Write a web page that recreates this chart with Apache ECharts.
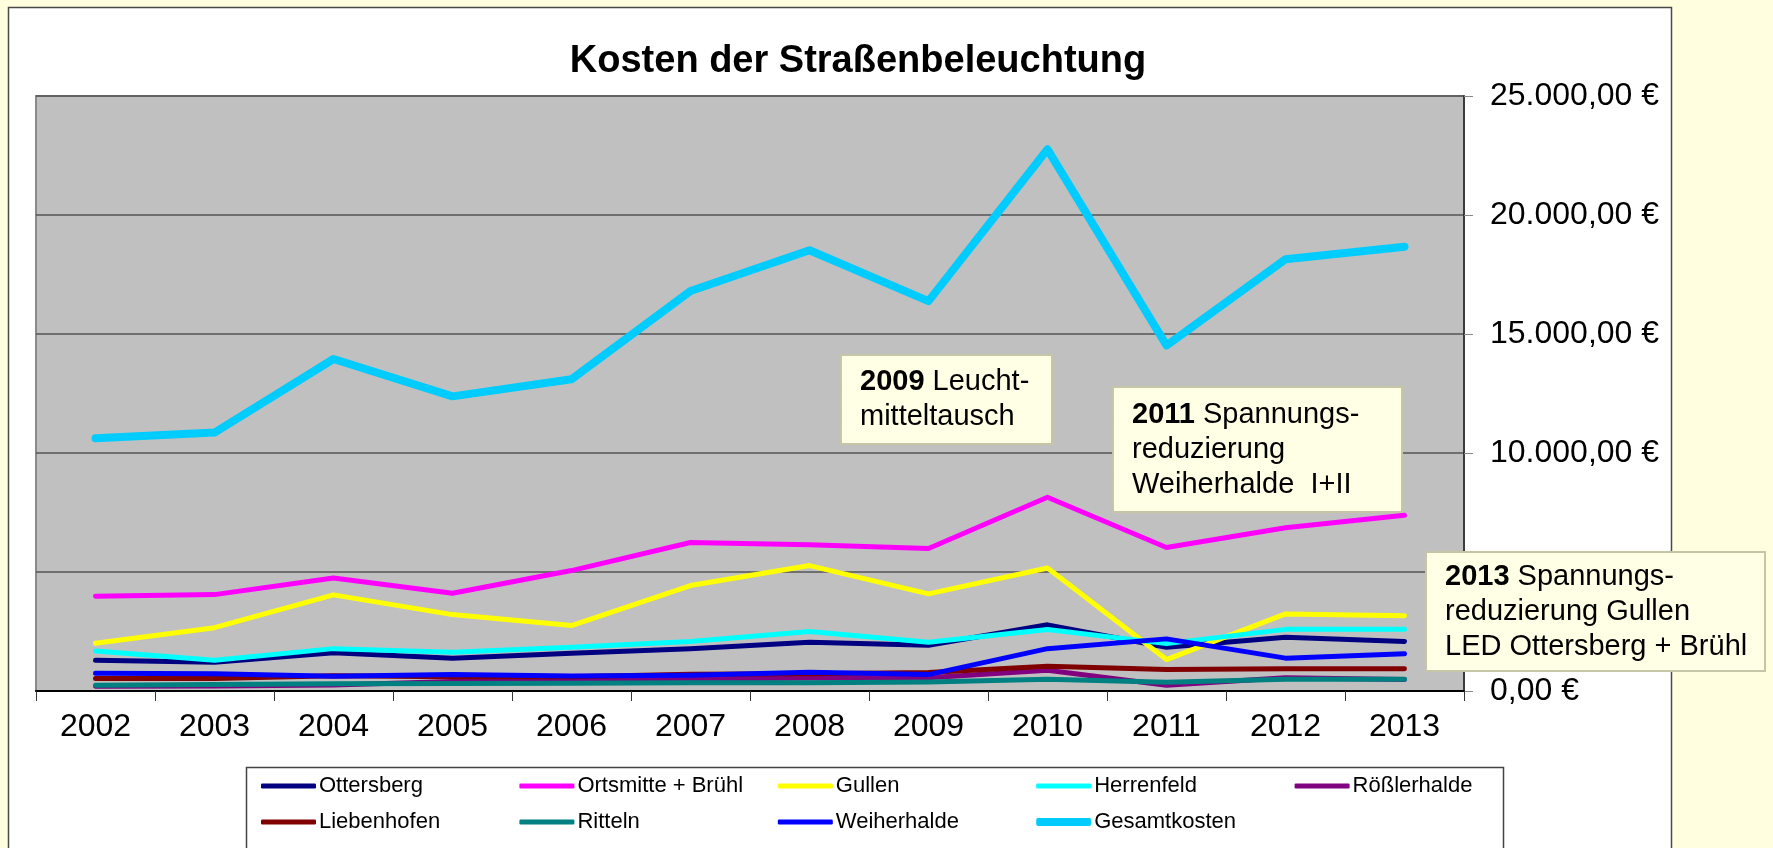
<!DOCTYPE html>
<html>
<head>
<meta charset="utf-8">
<title>Kosten der Straßenbeleuchtung</title>
<script src="https://cdn.jsdelivr.net/npm/echarts@6/dist/echarts.min.js"></script>
<style>
    html, body { margin: 0; padding: 0; background: #ffffe0; }
    #chart { width: 1773px; height: 848px; }
</style>
</head>
<body>
<div id="chart"></div>
<script>
// Jahre
var years = ['2002', '2003', '2004', '2005', '2006', '2007', '2008', '2009', '2010', '2011', '2012', '2013']

// Kosten je Ortsteil
var ottersberg   = [1290, 1210, 1610, 1380, 1590, 1780, 2050, 1920, 2780, 1840, 2260, 2080]
var ortsmitte    = [3980, 4050, 4750, 4110, 5060, 6240, 6150, 5990, 8140, 6030, 6860, 7380]
var gullen       = [2010, 2660, 4040, 3210, 2750, 4430, 5270, 4080, 5170, 1320, 3240, 3160]
var herrenfeld   = [1680, 1290, 1780, 1630, 1840, 2080, 2500, 2050, 2580, 1990, 2590, 2590]
var roesslerhalde = [200, 210, 250, 400, 450, 500, 550, 560, 870, 240, 560, 480]
var liebenhofen  = [520, 530, 640, 600, 600, 700, 720, 780, 1040, 900, 930, 940]
var ritteln      = [240, 270, 300, 310, 330, 350, 350, 380, 490, 370, 490, 490]
var weiherhalde  = [750, 730, 620, 690, 630, 660, 790, 690, 1780, 2190, 1380, 1570]
var gesamtkosten = [10620, 10860, 13950, 12380, 13100, 16810, 18520, 16380, 22760, 14520, 18140, 18670]

// Achse
var yTicks = [0, 5000, 10000, 15000, 20000, 25000]

var seriesNames = ['Ottersberg', 'Ortsmitte + Brühl', 'Gullen', 'Herrenfeld', 'Rößlerhalde',
    'Liebenhofen', 'Ritteln', 'Weiherhalde', 'Gesamtkosten']
var seriesData = [ottersberg, ortsmitte, gullen, herrenfeld, roesslerhalde,
    liebenhofen, ritteln, weiherhalde, gesamtkosten]
var seriesColors = ['#000080', '#ff00ff', '#ffff00', '#00ffff', '#800080',
    '#800000', '#008080', '#0000ff', '#00ccff']

var FONT = "'Liberation Sans', Arial, sans-serif"

function euro (v) {
    var s = Number(v).toFixed(2).split('.')
    return s[0].replace(/\B(?=(\d{3})+(?!\d))/g, '.') + ',' + s[1] + ' €'
}

var chart = echarts.init(document.getElementById('chart'))

var series = seriesNames.map(function (name, i) {
    var thick = name === 'Gesamtkosten' ? 8 : 5
    return {
        name: name,
        type: 'line',
        data: seriesData[i],
        showSymbol: false,
        symbol: 'none',
        color: seriesColors[i],
        lineStyle: { width: thick, color: seriesColors[i], cap: 'round', join: 'round' },
        emphasis: { disabled: true },
        animation: false
    }
})

// Legende: 5 Spalten, 2 Zeilen
var legends = seriesNames.map(function (name, i) {
    var col = i % 5
    var row = Math.floor(i / 5)
    return {
        data: [name],
        left: 261 + col * 258.4,
        top: (row === 0 ? 787 : 823) - 12,
        padding: 0,
        itemWidth: 55,
        itemHeight: name === 'Gesamtkosten' ? 8 : 5,
        itemGap: 0,
        icon: 'roundRect',
        selectedMode: false,
        textStyle: { fontSize: 22, color: '#000', fontFamily: FONT, padding: [0, 0, 0, -2] }
    }
})

function noteBox (x, y, w, h, text) {
    return {
        type: 'group',
        children: [{
            type: 'rect',
            z: 100,
            shape: { x: x, y: y, width: w, height: h },
            style: { fill: '#ffffe6', stroke: '#c6c6a6', lineWidth: 2 }
        }, {
            type: 'text',
            z: 101,
            style: {
                x: x + 19,
                y: y + h / 2,
                text: text,
                verticalAlign: 'middle',
                fontSize: 29,
                lineHeight: 35,
                fontFamily: FONT,
                fill: '#000',
                rich: {
                    b: { fontWeight: 'bold', fontSize: 29, lineHeight: 35, fontFamily: FONT }
                }
            }
        }]
    }
}

var option = {
    backgroundColor: '#ffffe0',
    animation: false,
    title: {
        text: 'Kosten der Straßenbeleuchtung',
        left: 853,
        top: 38,
        textAlign: 'center',
        textStyle: { fontSize: 38, fontWeight: 'bold', color: '#000', fontFamily: FONT }
    },
    legend: legends,
    grid: {
        left: 36,
        right: 309,
        top: 96,
        bottom: 157,
        show: true,
        backgroundColor: '#c0c0c0',
        borderColor: '#8a8a8a',
        borderWidth: 2
    },
    xAxis: {
        type: 'category',
        data: years,
        boundaryGap: true,
        axisLine: { lineStyle: { color: '#000', width: 2 } },
        axisTick: { show: true, length: 10, interval: 0, lineStyle: { color: '#333', width: 1 } },
        axisLabel: { fontSize: 32, color: '#000', fontFamily: FONT, margin: 20, interval: 0 },
        splitLine: { show: false }
    },
    yAxis: {
        type: 'value',
        position: 'right',
        min: yTicks[0],
        max: yTicks[yTicks.length - 1],
        interval: 5000,
        axisLine: { show: true, lineStyle: { color: '#222', width: 1.5 } },
        axisTick: { show: true, length: 9, lineStyle: { color: '#888', width: 1 } },
        axisLabel: { fontSize: 32, color: '#000', fontFamily: FONT, margin: 26, formatter: euro },
        splitLine: { show: true, lineStyle: { color: '#555', width: 1.5 } }
    },
    graphic: [{
        type: 'rect',
        z: -10,
        shape: { x: 8.5, y: 7.5, width: 1663, height: 860 },
        style: { fill: '#fff', stroke: '#4a4a4a', lineWidth: 1.5 }
    }, {
        type: 'rect',
        z: -5,
        shape: { x: 246.5, y: 767.5, width: 1257, height: 100 },
        style: { fill: '#fff', stroke: '#444', lineWidth: 1.5 }
    },
    noteBox(841, 355, 211, 89, '{b|2009} Leucht-\nmitteltausch'),
    noteBox(1113, 387, 289, 125, '{b|2011} Spannungs-\nreduzierung\nWeiherhalde  I+II'),
    noteBox(1426, 552, 339, 119, '{b|2013} Spannungs-\nreduzierung Gullen\nLED Ottersberg + Brühl')
    ],
    series: series
}

chart.setOption(option)
</script>
</body>
</html>
